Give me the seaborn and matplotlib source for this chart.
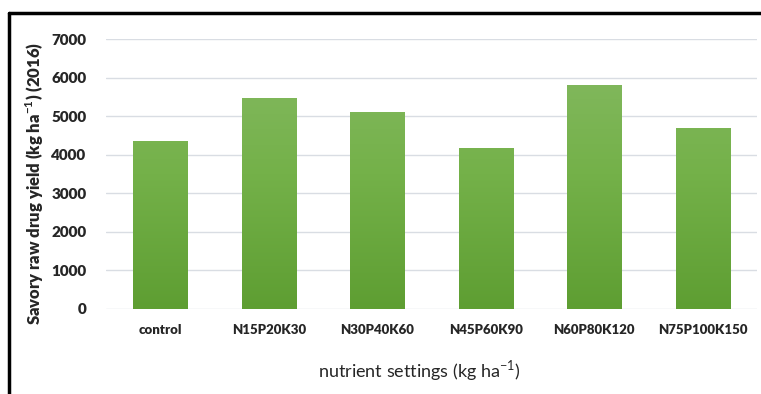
import numpy as np
import pandas as pd
import matplotlib
matplotlib.use("Agg")
import matplotlib.pyplot as plt
import seaborn as sns
from matplotlib.lines import Line2D
from matplotlib.colors import LinearSegmentedColormap

# data
treatments = ["control", "N15P20K30", "N30P40K60", "N45P60K90", "N60P80K120", "N75P100K150"]
yield_kg = [4360, 5480, 5110, 4180, 5810, 4700]
y_ticks = [0, 1000, 2000, 3000, 4000, 5000, 6000, 7000]

df = pd.DataFrame({"treatment": treatments, "yield": yield_kg})

sns.set_theme(style="white")
plt.rcParams["font.family"] = ["Lato", "DejaVu Sans"]
plt.rcParams["mathtext.fontset"] = "custom"
plt.rcParams["mathtext.rm"] = "Lato"
plt.rcParams["mathtext.bf"] = "Lato:bold"

fig = plt.figure(figsize=(7.61, 3.94), dpi=100)
ax = fig.add_axes([106 / 761, 1 - 308.8 / 394, 651 / 761, (308.8 - 39.3) / 394])

sns.barplot(data=df, x="treatment", y="yield", ax=ax, width=0.5,
            color="#70ad47", saturation=1, zorder=3)

# vertical gradient fill, light at top, darker at bottom
grad = LinearSegmentedColormap.from_list("g", ["#5e9e32", "#74b149", "#86ba64"])
for bar in ax.patches:
    x0, y0 = bar.get_x(), bar.get_y()
    w, h = bar.get_width(), bar.get_height()
    im = ax.imshow(np.linspace(0, 1, 256).reshape(-1, 1), cmap=grad, origin="lower",
                   aspect="auto", extent=[x0, x0 + w, y0, 7000], zorder=3)
    im.set_clip_path(bar)
    bar.set_facecolor("none")
    bar.set_edgecolor("none")

ax.set_xlim(-0.5, len(treatments) - 0.5)
ax.set_ylim(0, 7000)
ax.set_yticks(y_ticks)
ax.set_yticklabels([str(t) for t in y_ticks], fontsize=11, fontweight="heavy")
ax.tick_params(axis="y", length=0, pad=14)
ax.tick_params(axis="x", length=0, pad=11, labelsize=9.5)
for lbl in ax.get_xticklabels():
    lbl.set_fontweight("heavy")
ax.grid(axis="y", color="#d9dde3", linewidth=1, zorder=0)
for s in ax.spines.values():
    s.set_visible(False)
ax.set_xlabel("")
ax.set_ylabel("")

fig.text(0.046, 0.535, "Savory raw drug yield (kg ha$^{\\mathbf{-1}}$) (2016)",
         rotation=90, ha="center", va="center", fontsize=12, fontweight="heavy")
fig.text(0.5506, 0.06, "nutrient settings (kg ha$^{-1}$)", ha="center", va="center",
         fontsize=13)

# frame lines (top and left border)
fig.add_artist(Line2D([9 / 761, 1], [1 - 13 / 394, 1 - 13 / 394], color="black",
                      linewidth=2.5, transform=fig.transFigure))
fig.add_artist(Line2D([9 / 761, 9 / 761], [0, 1 - 13 / 394], color="black",
                      linewidth=2.5, transform=fig.transFigure))

fig.savefig("out.png", dpi=100)
